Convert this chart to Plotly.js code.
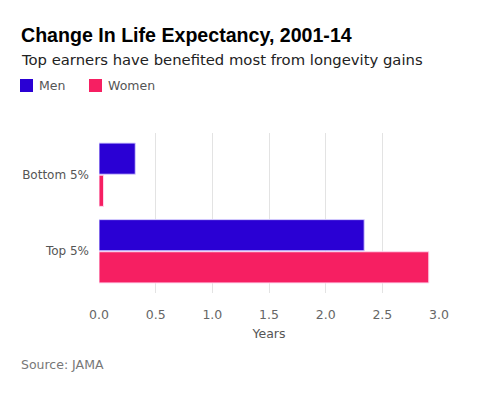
<!DOCTYPE html>
<html>
<head>
<meta charset="utf-8">
<script src="https://cdn.plot.ly/plotly-3.0.1.min.js"></script>
<style>html,body{margin:0;padding:0;background:#fff;}#chart{width:480px;height:393px;}</style>
</head>
<body>
<div id="chart"></div>
<script>
const categories = ['Top 5%', 'Bottom 5%'];
const menValues = [2.34, 0.32];
const womenValues = [2.91, 0.04];
const xTickValues = [0, 0.5, 1, 1.5, 2, 2.5, 3];
const seriesNames = ['Men', 'Women'];
const seriesColors = ['#2a00d4', '#f61f62'];

const W = 480, H = 393;
const L = 99, R = 41, T = 133, B = 100;
const pw = W - L - R, ph = H - T - B;
const px = x => (x - L) / pw;
const py = y => (H - B - y) / ph;
const FONT = 'DejaVu Sans, Liberation Sans, sans-serif';
const TFONT = 'Liberation Sans, Arial, sans-serif';

const traces = [
  {type: 'bar', orientation: 'h', name: seriesNames[1], y: categories, x: womenValues,
   marker: {color: seriesColors[1], line: {color: '#ffd6ee', width: 1}}, hoverinfo: 'none'},
  {type: 'bar', orientation: 'h', name: seriesNames[0], y: categories, x: menValues,
   marker: {color: seriesColors[0], line: {color: '#d8d0ff', width: 1}}, hoverinfo: 'none'}
];

const legendX = [20, 89];
const shapes = seriesNames.map((n, i) => ({
  type: 'rect', xref: 'paper', yref: 'paper', layer: 'above',
  x0: px(legendX[i]), x1: px(legendX[i] + 13), y0: py(92), y1: py(79),
  fillcolor: seriesColors[i], line: {width: 0}
}));
const legendAnn = seriesNames.map((n, i) => ({
  xref: 'paper', yref: 'paper', x: px(legendX[i] + 17), y: py(85.5), xanchor: 'left', yanchor: 'middle',
  showarrow: false, text: n, font: {size: 12.5, color: '#555', family: FONT}
}));

const layout = {
  width: W, height: H,
  margin: {l: L, r: R, t: T, b: B},
  paper_bgcolor: '#fff', plot_bgcolor: '#fff',
  font: {family: FONT, color: '#444'},
  barmode: 'group', bargap: 0.16, bargroupgap: 0.03,
  showlegend: false,
  xaxis: {range: [0, 3.0], tickvals: xTickValues, tickformat: '.1f', showgrid: true, gridcolor: '#e3e3e3',
          zeroline: false, showline: false, ticks: '', ticklabelstandoff: 12, tickfont: {size: 12.5, color: '#666'},
          title: {text: 'Years', font: {size: 12.5, color: '#555'}, standoff: 8}},
  yaxis: {range: [-0.545, 1.545], showgrid: false, zeroline: false, showline: false, ticks: '',
          ticklabelstandoff: 9, tickfont: {size: 12, color: '#555'}, automargin: false},
  shapes: shapes,
  annotations: [
    {xref: 'paper', yref: 'paper', x: px(19), y: py(35), xanchor: 'left', yanchor: 'middle', showarrow: false,
     text: '<b>Change In Life Expectancy, 2001-14</b>', font: {size: 19.6, color: '#000', family: TFONT}},
    {xref: 'paper', yref: 'paper', x: px(19), y: py(59.5), xanchor: 'left', yanchor: 'middle', showarrow: false,
     text: 'Top earners have benefited most from longevity gains', font: {size: 14.8, color: '#222', family: FONT}},
    {xref: 'paper', yref: 'paper', x: px(19), y: py(364), xanchor: 'left', yanchor: 'middle', showarrow: false,
     text: 'Source: JAMA', font: {size: 12.5, color: '#777', family: FONT}}
  ].concat(legendAnn)
};

Plotly.newPlot('chart', traces, layout, {staticPlot: true, displayModeBar: false});
</script>
</body>
</html>
